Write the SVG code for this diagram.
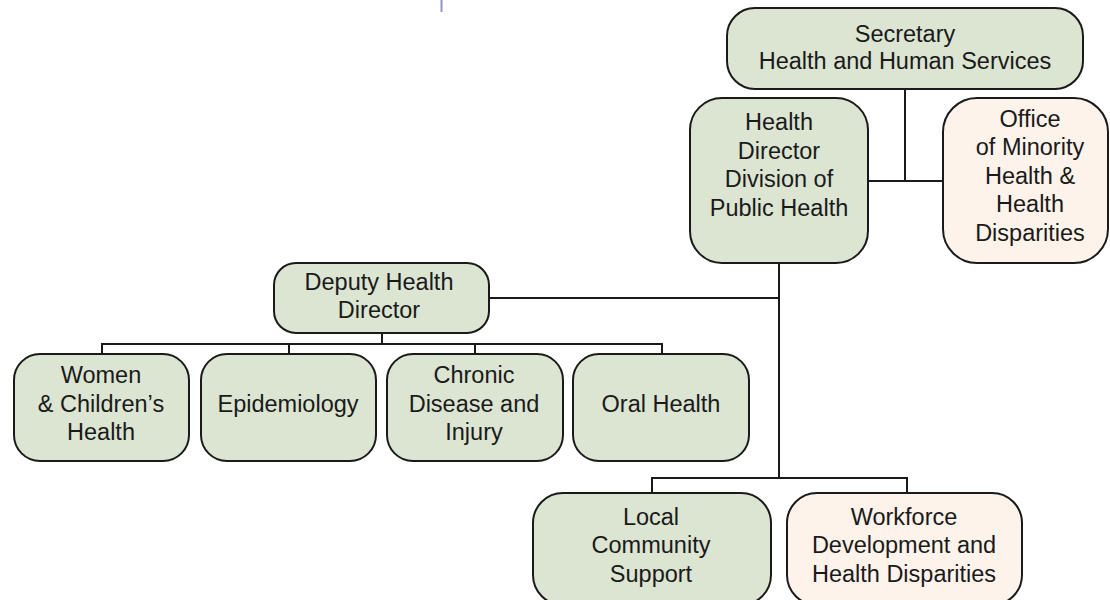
<svg xmlns="http://www.w3.org/2000/svg" width="1110" height="600" viewBox="0 0 1110 600">
<style>
.g{fill:#dce5d2;stroke:#1a1a1a;stroke-width:2}
.p{fill:#fdf3eb;stroke:#1a1a1a;stroke-width:2}
text{font-family:"Liberation Sans",Arial,sans-serif;font-size:23.5px;fill:#1a1a1a;text-anchor:middle}
.c{fill:none;stroke:#1a1a1a;stroke-width:2}
</style>
<rect width="1110" height="600" fill="#ffffff"/>
<line x1="441.5" y1="0" x2="441.5" y2="12" stroke="#8a95cf" stroke-width="2"/>
<g id="connectors" class="c">
<path class="c" d="M905 89V181M868 181H943"/>
<path class="c" d="M779 263V478M489 298H779"/>
<path class="c" d="M382 333V344M102 354V344H662V354M289 344V354M475 344V354"/>
<path class="c" d="M652 493V478H907V493"/>
</g>
<g id="secretary">
<rect class="g" x="727" y="8" width="356" height="81" rx="28"/>
<text x="905" y="42">Secretary</text>
<text x="905" y="69">Health and Human Services</text>
</g>
<g id="health-director">
<rect class="g" x="690" y="98" width="178" height="165" rx="32"/>
<text x="779" y="130">Health</text>
<text x="779" y="159">Director</text>
<text x="779" y="187">Division of</text>
<text x="779" y="216">Public Health</text>
</g>
<g id="office-minority">
<rect class="p" x="943" y="98" width="165" height="165" rx="34"/>
<text x="1030" y="127">Office</text>
<text x="1030" y="155">of Minority</text>
<text x="1030" y="184">Health &amp;</text>
<text x="1030" y="212">Health</text>
<text x="1030" y="241">Disparities</text>
</g>
<g id="deputy">
<rect class="g" x="274" y="263" width="215" height="70" rx="22"/>
<text x="379" y="290">Deputy Health</text>
<text x="379" y="318">Director</text>
</g>
<g id="women">
<rect class="g" x="14" y="354" width="175" height="107" rx="26"/>
<text x="101" y="383">Women</text>
<text x="101" y="412">&amp; Children’s</text>
<text x="101" y="440">Health</text>
</g>
<g id="epidemiology">
<rect class="g" x="201" y="354" width="175" height="107" rx="26"/>
<text x="288" y="412">Epidemiology</text>
</g>
<g id="chronic">
<rect class="g" x="387" y="354" width="176" height="107" rx="26"/>
<text x="474" y="383">Chronic</text>
<text x="474" y="412">Disease and</text>
<text x="474" y="440">Injury</text>
</g>
<g id="oral">
<rect class="g" x="573" y="354" width="176" height="107" rx="26"/>
<text x="661" y="412">Oral Health</text>
</g>
<g id="local">
<rect class="g" x="533" y="493" width="238" height="112" rx="30"/>
<text x="651" y="525">Local</text>
<text x="651" y="553">Community</text>
<text x="651" y="582">Support</text>
</g>
<g id="workforce">
<rect class="p" x="787" y="493" width="235" height="112" rx="30"/>
<text x="904" y="525">Workforce</text>
<text x="904" y="553">Development and</text>
<text x="904" y="582">Health Disparities</text>
</g>
</svg>
